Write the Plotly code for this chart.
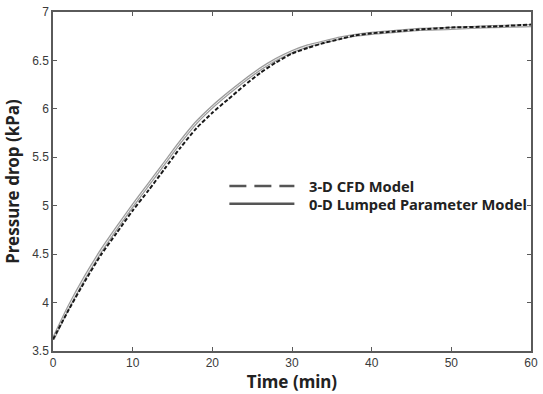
import plotly.graph_objects as go

# Time (min)
time_cfd = [0, 2, 4, 6, 8, 10, 12, 14, 16, 18, 20, 22, 24, 26, 28, 30, 32, 34, 36, 38, 40, 43, 46, 50, 55, 60]
# 3-D CFD model pressure drop (kPa)
p_cfd = [3.62, 3.93, 4.22, 4.49, 4.72, 4.95, 5.16, 5.38, 5.60, 5.80, 5.96, 6.10, 6.24, 6.37, 6.48, 6.57,
         6.63, 6.68, 6.72, 6.76, 6.78, 6.80, 6.82, 6.84, 6.85, 6.87]

time_lp = [0, 2, 4, 6, 8, 10, 12, 14, 16, 18, 20, 22, 24, 26, 28, 30, 32, 34, 36, 38, 40, 43, 46, 50, 55, 60]
# 0-D lumped parameter model pressure drop (kPa)
p_lp = [3.62, 3.96, 4.26, 4.53, 4.77, 5.00, 5.22, 5.44, 5.66, 5.86, 6.02, 6.16, 6.29, 6.41, 6.51, 6.59,
        6.65, 6.69, 6.73, 6.76, 6.78, 6.80, 6.82, 6.83, 6.85, 6.86]

x_ticks = [0, 10, 20, 30, 40, 50, 60]
y_ticks = [3.5, 4, 4.5, 5, 5.5, 6, 6.5, 7]
y_tick_text = ["3.5", "4", "4.5", "5", "5.5", "6", "6.5", "7"]

series_names = ["3-D CFD Model", "0-D Lumped Parameter Model"]

fig = go.Figure()
# solid lumped-parameter line drawn as grey outlined stroke
fig.add_trace(go.Scatter(x=time_lp, y=p_lp, mode="lines", name=series_names[1],
                         line=dict(color="#9c9c9c", width=3.2, shape="spline", smoothing=0.6),
                         showlegend=False, hoverinfo="skip"))
fig.add_trace(go.Scatter(x=time_lp, y=p_lp, mode="lines", name=series_names[1],
                         line=dict(color="#eeeeee", width=1, shape="spline", smoothing=0.6),
                         showlegend=False))
fig.add_trace(go.Scatter(x=time_cfd, y=p_cfd, mode="lines", name=series_names[0],
                         line=dict(color="#1a1a1a", width=2, dash="4px,2px", shape="spline", smoothing=0.6),
                         showlegend=False))

axis_common = dict(showline=True, linecolor="#5a5a5a", linewidth=1.5, mirror="ticks",
                   ticks="inside", ticklen=4, tickwidth=1, tickcolor="#5a5a5a",
                   showgrid=False, zeroline=False,
                   tickfont=dict(family="Liberation Sans, Arial", size=12, color="#3a3a3a"))

fig.update_xaxes(range=[0, 60], tickvals=x_ticks, **axis_common,
                 title=dict(text="<b>Time (min)</b>", standoff=7,
                            font=dict(family="Noto Sans, Open Sans", size=17, color="#222222")))
fig.update_yaxes(range=[3.5, 7], tickvals=y_ticks, ticktext=y_tick_text, **axis_common,
                 title=dict(text="<b>Pressure drop (kPa)</b>", standoff=8,
                            font=dict(family="Noto Sans, Open Sans", size=17, color="#222222")))

# manual legend (line samples + labels) in paper coordinates
legend_font = dict(family="Noto Sans, Open Sans", size=14.7, color="#222222")
fig.add_shape(type="line", xref="paper", yref="paper", x0=0.369, x1=0.505, y0=0.487, y1=0.487,
              line=dict(color="#555555", width=2.5, dash="17px,8px"))
fig.add_shape(type="line", xref="paper", yref="paper", x0=0.369, x1=0.505, y0=0.434, y1=0.434,
              line=dict(color="#555555", width=2.5))
fig.add_annotation(xref="paper", yref="paper", x=0.532, y=0.487, xanchor="left", yanchor="middle",
                   text="<b>" + series_names[0] + "</b>", showarrow=False, font=legend_font)
fig.add_annotation(xref="paper", yref="paper", x=0.532, y=0.434, xanchor="left", yanchor="middle",
                   text="<b>" + series_names[1] + "</b>", showarrow=False, font=legend_font)

fig.update_layout(width=543, height=394, margin=dict(l=53, r=5, t=11, b=42),
                  paper_bgcolor="white", plot_bgcolor="white", showlegend=False)

fig.write_html("out.html")
